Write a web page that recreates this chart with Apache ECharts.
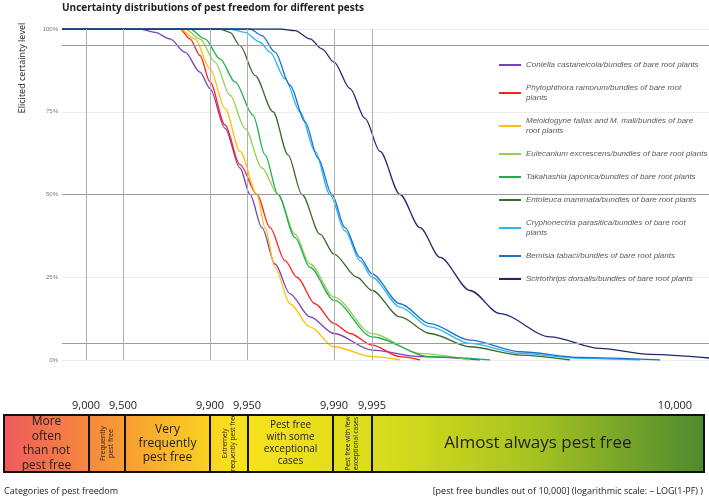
<!DOCTYPE html>
<html>
<head>
<meta charset="UTF-8">
<script src="https://cdn.jsdelivr.net/npm/echarts@6/dist/echarts.min.js"></script>
<style>html,body{margin:0;padding:0;background:#fff}#c{width:709px;height:501px}</style>
</head>
<body>
<div id="c"></div>
<script>
// x in chart scale units (category axis positions), y in % certainty
var names = [
  'Coniella castaneicola/bundles of bare root plants',
  'Phytophthora ramorum/bundles of bare root\nplants',
  'Meloidogyne fallax and M. mali/bundles of bare\nroot plants',
  'Eulecanium excrescens/bundles of bare root plants',
  'Takahashia japonica/bundles of bare root plants',
  'Entoleuca mammata/bundles of bare root plants',
  'Cryphonectria parasitica/bundles of bare root\nplants',
  'Bemisia tabaci/bundles of bare root plants',
  'Scirtothrips dorsalis/bundles of bare root plants'
];
var colors = ['#7a3fbf','#ff2020','#ffc000','#92d050','#1fae4f','#3b6a2a','#29b6f6','#1a73c8','#1f2a6e'];
var coniella = [[62,100],[140,100],[155,99],[170,97],[185,93],[200,87],[210,82],[225,70],[240,58],[250,50],[262,40],[275,29],[290,20],[310,13],[334,8],[372,3],[420,1],[480,0]];
var phytophthora = [[62,100],[180,100],[190,97],[200,92],[210,84],[225,71],[240,59],[257,50],[270,40],[285,30],[297,25],[315,17],[334,11],[350,8],[372,4.5],[400,1],[420,0]];
var meloidogyne = [[62,100],[180,100],[195,97],[210,88],[225,76],[240,63],[257,50],[265,40],[275,28],[290,17],[310,10],[334,4],[372,1],[400,0]];
var eulecanium = [[62,100],[185,100],[200,97],[215,90],[230,80],[245,70],[262,58],[278,50],[295,38],[310,29],[334,19],[372,8],[420,2],[470,0]];
var takahashia = [[62,100],[190,100],[205,97],[220,91],[235,84],[253,74],[265,62],[278,50],[295,37],[310,28],[334,18],[372,7],[430,1],[490,0]];
var entoleuca = [[62,100],[220,100],[230,99],[240,95],[255,86],[273,75],[288,62],[302,50],[320,38],[334,32],[357,25],[372,21],[400,13],[430,8],[470,4],[520,1.5],[570,0]];
var cryphonectria = [[62,100],[230,100],[245,99],[260,96],[270,93],[285,85],[300,75],[315,63],[330,50],[345,39],[360,30],[372,25],[400,16],[430,10],[470,5],[520,2],[580,0.5],[640,0]];
var bemisia = [[62,100],[250,100],[262,98],[275,93],[290,83],[305,72],[318,61],[332,50],[345,40],[360,31],[372,26],[400,17],[430,11],[470,6],[520,2.5],[580,0.8],[660,0]];
var scirtothrips = [[62,100],[280,100],[295,99.5],[310,97],[322,94],[334,90],[350,82],[365,73],[380,63],[400,50],[420,40],[440,31],[470,21],[500,14],[550,7],[600,3.5],[650,1.7],[709,0.6]];
var curves = [coniella, phytophthora, meloidogyne, eulecanium, takahashia, entoleuca, cryphonectria, bemisia, scirtothrips];

var tickPos = [86, 123, 210, 247, 334, 372, 675];
var tickLabels = ['9,000', '9,500', '9,900', '9,950', '9,990', '9,995', '10,000'];
var refLevels = [95, 50, 5];

var catEdges = [4, 89, 125, 210, 248, 333, 372, 704];
var catLabels = ['More\noften\nthan not\npest free', 'Frequently\npest free', 'Very\nfrequently\npest free',
  'Extremely\nfrequently pest free', 'Pest free\nwith some\nexceptional\ncases', 'Pest free with few\nexceptional cases',
  'Almost always pest free'];
var catVertical = [false, true, false, true, false, true, false];
var catSize = [12, 7, 12, 6.5, 10, 6.5, 17];

var chart = echarts.init(document.getElementById('c'));
var bandTop = 415, bandH = 57;

var series = curves.map(function (d, i) {
  return { name: names[i], type: 'line', data: d, smooth: 0.3, smoothMonotone: 'x', showSymbol: false,
    lineStyle: { width: 1.3, color: colors[i] }, itemStyle: { color: colors[i] } };
});
series[0].markLine = {
  silent: true, symbol: 'none', label: { show: false },
  data: refLevels.map(function (v) { return { yAxis: v, lineStyle: { color: '#9a9a9a', width: 1, type: 'solid' } }; })
    .concat(tickPos.slice(0, 6).map(function (v) { return { xAxis: v, lineStyle: { color: '#b0b0b0', width: 1, type: 'solid' } }; }))
};

var graphics = [{
  type: 'rect', shape: { x: catEdges[0], y: bandTop, width: catEdges[7] - catEdges[0], height: bandH },
  style: { fill: new echarts.graphic.LinearGradient(0, 0, 1, 0, [
    { offset: 0, color: '#f05a5c' }, { offset: 0.18, color: '#f7a030' }, { offset: 0.33, color: '#fbe21c' },
    { offset: 0.55, color: '#d6dc1c' }, { offset: 0.75, color: '#a9c420' }, { offset: 1, color: '#4e8a30' }]) }
}];
for (var i = 0; i < 7; i++) {
  var x0 = catEdges[i], x1 = catEdges[i + 1];
  graphics.push({ type: 'rect', shape: { x: x0, y: bandTop, width: x1 - x0, height: bandH },
    style: { fill: 'none', stroke: '#111', lineWidth: 2 } });
  graphics.push({ type: 'text', x: (x0 + x1) / 2, y: bandTop + bandH / 2, rotation: catVertical[i] ? Math.PI / 2 : 0,
    style: { text: catLabels[i], fill: '#222', fontSize: catSize[i], fontFamily: 'Open Sans', align: 'center',
      verticalAlign: 'middle', lineHeight: catSize[i] * 1.2 } });
}
graphics.push({ type: 'text', left: 62, top: 3, style: { text: 'Uncertainty distributions of pest freedom for different pests', fontSize: 10, fontWeight: 'bold', fill: '#222', fontFamily: 'Open Sans' } });
graphics.push({ type: 'text', x: 22, y: 68, rotation: Math.PI / 2, style: { text: 'Elicited certainty level', fontSize: 9, fill: '#222', fontFamily: 'Open Sans', align: 'center', verticalAlign: 'middle' } });
graphics.push({ type: 'text', left: 4, top: 487, style: { text: 'Categories of pest freedom', fontSize: 9, fill: '#222', fontFamily: 'Open Sans' } });
graphics.push({ type: 'text', right: 6, top: 487, style: { text: '[pest free bundles out of 10,000] (logarithmic scale: \u2013 LOG(1-PF) )', fontSize: 9, fill: '#222', fontFamily: 'Open Sans' } });

chart.setOption({
  animation: false,
  grid: { left: 62, right: 0, top: 29, bottom: 141 },
  legend: {
    orient: 'vertical', left: 494, top: 55, itemWidth: 22, itemHeight: 2, itemGap: 13, icon: 'rect',
    data: names,
    textStyle: { fontSize: 8, fontStyle: 'italic', color: '#595959', fontFamily: 'Liberation Sans', lineHeight: 10 }
  },
  xAxis: {
    type: 'value', min: 62, max: 709,
    axisLine: { show: false }, axisTick: { show: false }, splitLine: { show: false },
    axisLabel: { customValues: tickPos, margin: 40, fontSize: 11, color: '#222', fontFamily: 'Open Sans',
      formatter: function (v) { return tickLabels[tickPos.indexOf(v)]; } }
  },
  yAxis: {
    type: 'value', min: 0, max: 100, interval: 25,
    axisLine: { show: false }, axisTick: { show: false },
    splitLine: { lineStyle: { color: '#ececec' } },
    axisLabel: { fontSize: 6, color: '#777', margin: 4, formatter: '{value}%' }
  },
  series: series,
  graphic: graphics
});
</script>
</body>
</html>
